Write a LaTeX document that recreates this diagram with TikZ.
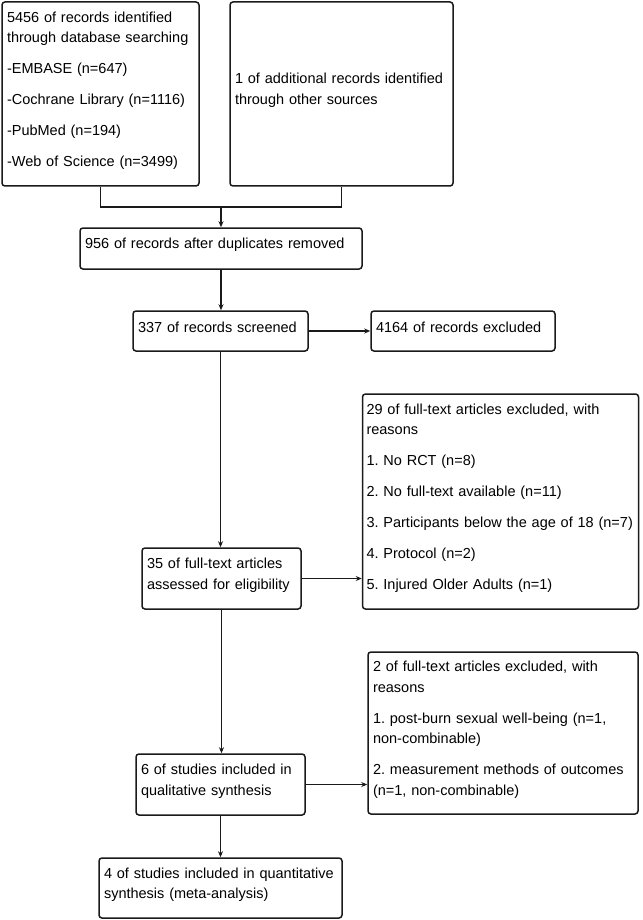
\documentclass[tikz,border=0pt]{standalone}
\usepackage{fontspec}
\setmainfont{Liberation Sans}
\usetikzlibrary{arrows.meta}
\definecolor{boxline}{HTML}{1A1A1A}
\frenchspacing
\newcommand\boxtail{\endgraf\vspace*{7pt}}

\begin{document}
\begin{tikzpicture}[
  x=1pt, y=-1pt,
  font=\fontsize{14.5}{20.5}\selectfont,
  box/.style={draw=boxline, line width=1.5pt, rounded corners=3pt,
              inner xsep=5pt, inner ysep=0pt, align=left,
              execute at end node=\boxtail},
  flow/.style={-{Stealth[length=6pt,width=5pt]}, line width=1.5pt, draw=boxline},
  link/.style={line width=1.5pt, draw=boxline},
]
\useasboundingbox (0,0) rectangle (642,920);

% identification
\node[box, text width=187pt, minimum height=184pt] (ident) at (100.5,94)
  {5456 of records identified\\ through database searching\\[10.5pt]
   -EMBASE (n=647)\\[10.5pt] -Cochrane Library (n=1116)\\[10.5pt]
   -PubMed (n=194)\\[10.5pt] -Web of Science (n=3499)};
\node[box, text width=213pt, minimum height=184pt] (other) at (341.5,94)
  {1 of additional records identified\\ through other sources};

% screening
\node[box, text width=272pt, minimum height=41pt] (dedup) at (221,248.5)
  {956 of records after duplicates removed};
\node[box, text width=165pt, minimum height=40pt] (screen) at (220.5,331)
  {337 of records screened};
\node[box, text width=174pt, minimum height=40pt] (excl) at (463,331)
  {4164 of records excluded};

% eligibility
\node[box, text width=149pt, minimum height=61pt] (elig) at (221.5,578.5)
  {35 of full-text articles\\ assessed for eligibility};
\node[box, text width=268pt, inner xsep=4pt, minimum height=215pt] (ftexcl) at (500.5,501.5)
  {29 of full-text articles excluded, with\\ reasons\\[10.5pt]
   1. No RCT (n=8)\\[10.5pt] 2. No full-text available (n=11)\\[10.5pt]
   \mbox{3. Participants below the age of 18 (n=7)}\\[10.5pt]
   4. Protocol (n=2)\\[10.5pt] 5. Injured Older Adults (n=1)};

% included
\node[box, text width=159pt, minimum height=61pt] (qual) at (220.5,784.5)
  {6 of studies included in\\ qualitative synthesis};
\node[box, text width=260pt, minimum height=162pt] (qualexcl) at (503,733)
  {2 of full-text articles excluded, with\\ reasons\\[10.5pt]
   1. post-burn sexual well-being (n=1,\\ non-combinable)\\[10.5pt]
   2. measurement methods of outcomes\\ (n=1, non-combinable)};
\node[box, text width=233pt, minimum height=60pt] (quant) at (220.5,888)
  {4 of studies included in quantitative\\ synthesis (meta-analysis)};

\coordinate (join) at (221,207);
\draw[link] (ident.south) |- (join) -| (other.south);
\draw[flow] (join) -- (join |- dedup.north);

\foreach \a/\b in {dedup/screen, screen/elig, elig/qual, qual/quant}
  \draw[flow] (\a.south) -- (\a.south |- \b.north);

\foreach \a/\b in {screen/excl, elig/ftexcl, qual/qualexcl}
  \draw[flow] (\a.east) -- (\a.east -| \b.west);

\end{tikzpicture}
\end{document}
